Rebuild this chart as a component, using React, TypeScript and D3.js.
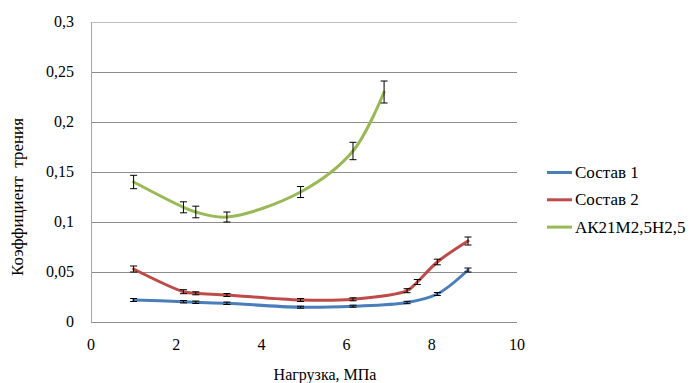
import React from "react";
import * as d3 from "d3";

const xTicks = [0, 2, 4, 6, 8, 10];
const yTicks = [0, 0.05, 0.1, 0.15, 0.2, 0.25, 0.3];

const s1X = [1, 2.17, 2.46, 3.19, 4.92, 6.15, 7.42, 8.13, 8.85];
const s1Y = [0.022, 0.0203, 0.0197, 0.0187, 0.0148, 0.0158, 0.0195, 0.028, 0.052];
const s1E = [0.0015, 0.0012, 0.0012, 0.0012, 0.001, 0.001, 0.0012, 0.0015, 0.002];

const s2X = [1, 2.17, 2.46, 3.19, 4.92, 6.15, 7.42, 7.66, 8.13, 8.85];
const s2Y = [0.053, 0.0303, 0.0287, 0.027, 0.022, 0.0227, 0.0313, 0.04, 0.06, 0.081];
const s2E = [0.003, 0.002, 0.0015, 0.0015, 0.0015, 0.0015, 0.002, 0.0025, 0.0028, 0.004];

const s3X = [1, 2.17, 2.46, 3.19, 4.92, 6.15, 6.88];
const s3Y = [0.14, 0.1147, 0.11, 0.105, 0.13, 0.171, 0.23];
const s3E = [0.0067, 0.0055, 0.0058, 0.005, 0.0055, 0.0087, 0.011];

const seriesNames = ["Состав 1", "Состав 2", "АК21М2,5Н2,5"];
const seriesColors = ["#4a7ebb", "#be4b48", "#98b954"];

const W = 692;
const H = 383;
const font = "Tinos, 'Liberation Serif', 'DejaVu Serif', 'Noto Serif', 'Times New Roman', Times, serif";
const tStyle = { fontFamily: font };

export default function App() {
  const x = d3.scaleLinear().domain([0, 10]).range([91, 517]);
  const y = d3.scaleLinear().domain([0, 0.3]).range([322, 22]);
  const series = [
    { xs: s1X, ys: s1Y, es: s1E },
    { xs: s2X, ys: s2Y, es: s2E },
    { xs: s3X, ys: s3Y, es: s3E },
  ];
  const line = d3
    .line<[number, number]>()
    .x((d) => x(d[0]))
    .y((d) => y(d[1]))
    .curve(d3.curveCatmullRom.alpha(0.5));

  return (
    <svg
      width={W}
      height={H}
      style={{ position: "absolute", left: 0, top: 0, background: "#fff", fontFamily: font }}
    >
      <rect x={0} y={0} width={W} height={H} fill="#fff" />
      {yTicks.map((t) => (
        <line
          key={"g" + t}
          x1={x(0)}
          x2={x(10)}
          y1={Math.round(y(t)) + 0.5}
          y2={Math.round(y(t)) + 0.5}
          stroke={t === 0.3 ? "#bfbfbf" : "#8c8c8c"}
          strokeWidth={1}
        />
      ))}
      <line x1={x(0) + 0.5} x2={x(0) + 0.5} y1={y(0.3)} y2={y(0) + 0.5} stroke="#a6a6a6" />
      {yTicks.map((t) => (
        <text
          key={"yl" + t}
          x={74}
          y={y(t) + 5}
          textAnchor="end"
          fontSize={16}
          fill="#000"
          style={tStyle}
        >
          {String(Math.round(t * 100) / 100).replace(".", ",")}
        </text>
      ))}
      {xTicks.map((t) => (
        <text key={"xl" + t} x={x(t)} y={350} textAnchor="middle" fontSize={16} fill="#000" style={tStyle}>
          {t}
        </text>
      ))}
      <text x={325} y={380} textAnchor="middle" fontSize={16} fill="#000" style={tStyle}>
        Нагрузка, МПа
      </text>
      <text
        transform={`translate(23,197) rotate(-90)`}
        textAnchor="middle"
        fontSize={17}
        fill="#000"
        style={{ whiteSpace: "pre", fontFamily: font }}
      >
        Коэффициент  трения
      </text>
      {series.map((s, i) => (
        <path
          key={"p" + i}
          d={line(s.xs.map((v, j) => [v, s.ys[j]] as [number, number])) || ""}
          fill="none"
          stroke={seriesColors[i]}
          strokeWidth={3}
          strokeLinecap="round"
        />
      ))}
      {series.map((s, i) =>
        s.xs.map((v, j) => {
          const cx = x(v);
          const y1 = y(s.ys[j] + s.es[j]);
          const y2 = y(s.ys[j] - s.es[j]);
          return (
            <g key={"e" + i + "_" + j} stroke="#000" strokeWidth={1}>
              <line x1={cx} x2={cx} y1={y1} y2={y2} />
              <line x1={cx - 3.5} x2={cx + 3.5} y1={y1} y2={y1} />
              <line x1={cx - 3.5} x2={cx + 3.5} y1={y2} y2={y2} />
            </g>
          );
        })
      )}
      {seriesNames.map((n, i) => (
        <g key={"lg" + i}>
          <line
            x1={547}
            x2={572}
            y1={172.5 + i * 27.3}
            y2={172.5 + i * 27.3}
            stroke={seriesColors[i]}
            strokeWidth={3}
          />
          <text x={575} y={178 + i * 27.3} fontSize={17} fill="#000" style={tStyle}>
            {n}
          </text>
        </g>
      ))}
    </svg>
  );
}
